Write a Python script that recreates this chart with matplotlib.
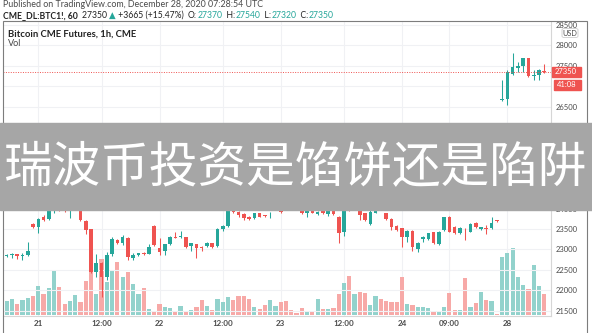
import numpy as np
import matplotlib.pyplot as plt
from matplotlib.patches import Rectangle, FancyBboxPatch

plt.rcParams['font.family'] = ['Lato', 'DejaVu Sans']

# 1h bars, CME BTC futures, Dec 18 17:00 UTC .. Dec 28 07:00 UTC (session gaps removed)
opens = [22830, 22870, 22880, 22846, 22863, 23622, 23557, 23802, 23745, 23930,
         24120, 24060, 24010, 24150, 24250, 23696, 23492, 22454, 22658, 22331,
         22879, 23230, 23148, 23271, 22797, 22862, 22910, 22895, 23581, 23042,
         22960, 23124, 23312, 23300, 23296, 23083, 23124, 23060, 23091, 23148,
         23083, 23500, 23581, 24000, 23908, 23859, 23802, 23761, 23884, 23830,
         23835, 23990, 23970, 24100, 24080, 24050, 23965, 23883, 23940, 23867,
         23948, 23867, 23990, 23802, 23434, 24060, 24010, 24080, 23883, 23622,
         23900, 24050, 23883, 23744, 23573, 23516, 23311, 23458, 23001, 23246,
         23246, 23417, 23131, 23475, 23802, 23556, 23393, 23480, 23434, 23654,
         23491, 23520, 23516, 23710, 26660, 26677, 27297, 27451, 27493, 27682,
         27260, 27273, 27370]
closes = [22860, 22885, 22846, 22860, 22961, 23557, 23745, 23720, 24000, 24150,
          24010, 24010, 24150, 24300, 23720, 23475, 22454, 22658, 22331, 22862,
          23247, 23165, 23296, 22822, 22862, 22903, 22895, 23050, 23108, 22944,
          23124, 23312, 23288, 23320, 23067, 23148, 23026, 23040, 23148, 23067,
          23500, 23581, 23940, 23908, 23843, 23778, 23745, 23884, 23802, 23820,
          23850, 24150, 23920, 24050, 24040, 24020, 23883, 23940, 23900, 23924,
          23883, 23981, 23860, 23393, 24000, 23975, 24100, 23842, 23720, 23925,
          23940, 23990, 23744, 23556, 23475, 23295, 23458, 23050, 23164, 23311,
          23393, 23164, 23417, 23785, 23434, 23393, 23524, 23470, 23622, 23540,
          23540, 23510, 23654, 23685, 26692, 27354, 27479, 27493, 27682, 27248,
          27275, 27395, 27350]
highs = [22880, 22900, 22890, 22910, 23189, 23650, 23770, 23843, 24040, 24200,
         24160, 24100, 24200, 24350, 24300, 23720, 23500, 22879, 22700, 22944,
         23296, 23260, 23353, 23300, 22900, 22920, 22930, 23130, 23600, 23271,
         23140, 23330, 23434, 23450, 23310, 23160, 23140, 23080, 23170, 23160,
         23520, 23600, 24050, 24050, 23930, 23880, 23820, 23900, 23900, 23850,
         23910, 24200, 24000, 24150, 24120, 24080, 24000, 23960, 23960, 23950,
         23970, 24000, 24010, 23830, 24050, 24100, 24150, 24120, 23900, 23960,
         23970, 24080, 23900, 23760, 23590, 23530, 23480, 23470, 23180, 23330,
         23410, 23430, 23440, 23800, 23810, 23570, 23540, 23516, 23640, 23660,
         23555, 23600, 23785, 23730, 27150, 27395, 27805, 27600, 27700, 27690,
         27395, 27410, 27540]
lows = [22810, 22790, 22765, 22750, 22850, 23530, 23394, 23700, 23720, 23900,
        23950, 23925, 23760, 24100, 23700, 23369, 22430, 22331, 21841, 22250,
        22850, 23130, 23120, 22740, 22740, 22840, 22860, 22880, 23090, 22862,
        22862, 23100, 23270, 23290, 23030, 22950, 22781, 22970, 23070, 23040,
        23070, 23450, 23560, 23890, 23800, 23720, 23720, 23740, 23790, 23800,
        23770, 23970, 23900, 24010, 24010, 23990, 23870, 23802, 23880, 23850,
        23870, 23820, 23840, 23164, 23328, 23940, 24000, 23720, 23700, 23600,
        23880, 23970, 23720, 23475, 23450, 23066, 23189, 22960, 22944, 23189,
        23230, 23140, 23110, 23450, 23420, 23380, 23380, 23230, 23420, 23530,
        23480, 23380, 23500, 23680, 26640, 26538, 27270, 27354, 27354, 27230,
        27150, 27150, 27320]
volumes = [280, 320, 215, 305, 340, 375, 585, 415, 540, 900,
           560, 215, 280, 395, 260, 685, 860, 415, 1115, 655,
           900, 1055, 760, 865, 615, 415, 535, 115, 65, 215,
           165, 140, 80, 175, 80, 95, 155, 300, 175, 105,
           320, 255, 365, 305, 385, 385, 320, 160, 115, 195,
           305, 175, 260, 290, 100, 50, 150, 65, 80, 330,
           130, 125, 150, 420, 635, 775, 415, 460, 435, 195,
           380, 320, 280, 260, 255, 760, 225, 195, 160, 165,
           135, 65, 65, 165, 435, 100, 100, 745, 165, 235,
           465, 300, 285, 25, 1155, 1245, 1345, 765, 600, 520,
           1000, 580, 415]

tick_pos = [6, 18, 29, 41, 52, 64, 75, 84, 95]
tick_labels = ['21', '12:00', '22', '12:00', '23', '12:00', '24', '09:00', '28']
price_ticks = list(range(21500, 29000, 500))
# labels under the banner / countdown box are not visible in the original
hidden = [24500, 25000, 25500, 26000, 27000]
price_labels = ['' if p in hidden else str(p) for p in price_ticks]
last_price = 27350

up = '#26a69a'
down = '#ef5350'
vol_up = '#92d2cc'
vol_down = '#f7a9a7'
txt = '#4a4a4a'

W, H = 592, 333
fig = plt.figure(figsize=(W / 100, H / 100), dpi=100)
fig.patch.set_facecolor('white')


def fx(px):
    return px / W


def fy(py):
    return 1 - py / H


rect = [fx(3), fy(316), (551 - 3) / W, (316 - 22) / H]
axv = fig.add_axes(rect)
ax = fig.add_axes(rect, sharex=axv)
ax.patch.set_alpha(0)

o = np.array(opens)
c = np.array(closes)
hi = np.array(highs)
lo = np.array(lows)
v = np.array(volumes)
x = np.arange(len(o))
rising = c >= o

# volume
axv.bar(x, v, width=0.8, color=np.where(rising, vol_up, vol_down), linewidth=0)
axv.set_ylim(-20, 5860)
axv.set_yticks([])
for t in tick_pos:
    axv.axvline(t, color='#f0f1f4', lw=0.8, zorder=0)
for s in axv.spines.values():
    s.set_visible(False)
axv.tick_params(axis='x', length=0, labelbottom=False)

# candles
for p in price_ticks:
    ax.axhline(p, color='#f0f1f4', lw=0.8, zorder=0)
cols = np.where(rising, up, down)
ax.vlines(x, lo, hi, color=cols, lw=0.75)
body = np.maximum(np.abs(c - o), 15)
ax.bar(x, body, bottom=np.minimum(o, c), width=0.68, color=cols, linewidth=0)
ax.axhline(last_price, color=down, lw=0.7, ls=(0, (1, 1.5)))

ax.set_xlim(-0.7, 103.28)
ax.set_ylim(21368.5, 28571.5)
ax.set_xticks(tick_pos)
ax.set_xticklabels(tick_labels, fontsize=5.8, color=txt, fontweight='bold')
ax.tick_params(axis='x', length=0, pad=3)
ax.yaxis.tick_right()
ax.set_yticks(price_ticks)
ax.set_yticklabels(price_labels, fontsize=5.5, color=txt)
ax.tick_params(axis='y', length=0, pad=3)
for k in ['top', 'left']:
    ax.spines[k].set_visible(False)
ax.spines['right'].set_color('#d6d6d6')
ax.spines['bottom'].set_color('#d6d6d6')
ax.spines['right'].set_linewidth(0.8)
ax.spines['bottom'].set_linewidth(0.8)

# outer frame
fig.patches.append(Rectangle((fx(3), fy(340)), (587 - 3) / W, (340 - 21) / H, transform=fig.transFigure,
                             fill=False, edgecolor='#7d7d7d', lw=0.8, zorder=2))

# header
fig.text(fx(3), fy(4.5), 'Published on TradingView.com, December 28, 2020 07:28:54 UTC',
         fontsize=6.4, color=txt, va='center', ha='left')
parts = [('CME_DL:BTC1!, 60  ', '#222222', 'bold'), ('27350 ', '#222222', 'normal'),
         ('\u25B2', up, 'normal'), (' +3665 (+15.47%)  ', '#222222', 'normal'),
         ('O:', '#222222', 'normal'), ('27370', up, 'normal'), ('  H:', '#222222', 'normal'),
         ('27540', up, 'normal'), ('  L:', '#222222', 'normal'), ('27320', up, 'normal'),
         ('  C:', '#222222', 'normal'), ('27350', up, 'normal')]
prev = fig.text(fx(3), fy(15.5), parts[0][0], fontsize=6.2, color=parts[0][1],
                fontweight=parts[0][2], va='center', ha='left')
for s, col, fw in parts[1:]:
    prev = ax.annotate(s, xy=(1, 0.5), xycoords=prev, va='center', ha='left', fontsize=6.2,
                       color=col, fontweight=fw, annotation_clip=False)

fig.text(fx(8), fy(34.5), 'Bitcoin CME Futures, 1h, CME', fontsize=6.8, color='#222222',
         fontweight='bold', va='center', ha='left')
fig.text(fx(8), fy(44), 'Vol', fontsize=6.6, color=txt, va='center', ha='left')

# price axis labels
fig.patches.append(FancyBboxPatch((fx(562), fy(37.5)), 16 / W, 9 / H, transform=fig.transFigure,
                                  boxstyle='round,pad=0,rounding_size=0.004', facecolor='white',
                                  edgecolor='#cccccc', lw=0.6, zorder=4))
fig.text(fx(570), fy(33), 'USD', fontsize=5.2, color=txt, ha='center', va='center', zorder=5)
fig.patches.append(Rectangle((fx(551.5), fy(76.7)), 29 / W, 9.4 / H, transform=fig.transFigure,
                             color=down, zorder=4))
fig.text(fx(566), fy(72), '27350', fontsize=5.5, color='white', ha='center', va='center', zorder=5)
fig.patches.append(Rectangle((fx(554), fy(89.5)), 26.5 / W, 10 / H, transform=fig.transFigure,
                             color=down, zorder=4))
fig.text(fx(567), fy(84.5), '41:08', fontsize=5.5, color='white', ha='center', va='center', zorder=5)

# banner
fig.patches.append(Rectangle((0, fy(210)), 1, (210 - 123) / H, transform=fig.transFigure,
                             color='#a6a6a6', zorder=10))
fig.text(0.5, fy(168), '瑞波币投资是馅饼还是陷阱', fontsize=35, color='white', ha='center',
         va='center', family=['Noto Sans CJK SC', 'DejaVu Sans'], zorder=11)

fig.savefig('out.png', dpi=100)
